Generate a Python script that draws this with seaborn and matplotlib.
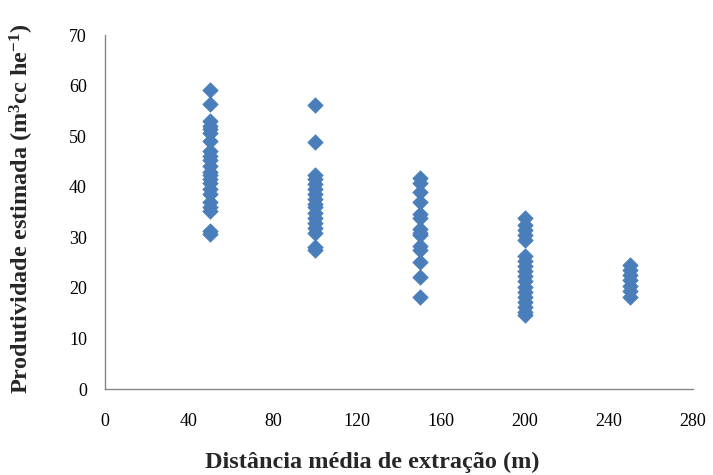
import matplotlib
matplotlib.use("Agg")
import matplotlib.pyplot as plt
import seaborn as sns
import pandas as pd

# Productivity estimated at each mean extraction distance
dist_50 = [59.2, 56.4, 52.9, 52.1, 51.4, 50.6, 49.1, 47.1, 46.1, 45.3, 44.0,
           43.0, 42.3, 41.5, 40.8, 39.5, 38.5, 37.0, 35.9, 35.2, 31.2, 30.6]
dist_100 = [56.2, 48.8, 42.3, 41.5, 40.5, 39.5, 38.5, 37.5, 36.6, 35.9, 34.9,
            33.9, 32.9, 31.9, 30.9, 28.1, 27.5]
dist_150 = [41.7, 40.8, 39.0, 36.9, 34.6, 33.9, 31.6, 30.9, 30.4, 28.3, 27.5,
            25.1, 22.1, 18.2]
dist_200 = [33.8, 32.4, 31.4, 30.4, 29.4, 26.3, 25.3, 24.3, 23.3, 22.3, 21.3,
            20.2, 19.2, 18.2, 17.2, 16.2, 15.2, 14.7]
dist_250 = [24.5, 23.5, 22.5, 21.5, 20.4, 19.4, 18.2]

distances = [50, 100, 150, 200, 250]
groups = [dist_50, dist_100, dist_150, dist_200, dist_250]

x_ticks = [0, 40, 80, 120, 160, 200, 240, 280]
y_ticks = [0, 10, 20, 30, 40, 50, 60, 70]

df = pd.DataFrame({
    "dist": [d for d, g in zip(distances, groups) for _ in g],
    "prod": [v for g in groups for v in g],
})

sns.set_theme(style="white")
plt.rcParams["font.family"] = ["Liberation Serif", "DejaVu Serif"]
plt.rcParams["mathtext.fontset"] = "custom"
plt.rcParams["mathtext.rm"] = "Liberation Serif:bold"
plt.rcParams["mathtext.bf"] = "Liberation Serif:bold"
plt.rcParams["mathtext.default"] = "bf"

fig = plt.figure(figsize=(7.13, 4.75), dpi=100)
ax = fig.add_axes([0.1473, 0.181, 0.8247, 0.7453])

sns.scatterplot(data=df, x="dist", y="prod", marker="D", s=62,
                color="#4A7EBB", edgecolor="#4A7EBB", linewidth=0.5, ax=ax,
                zorder=3)

ax.set_xlim(0, 280)
ax.set_ylim(0, 70)
ax.set_xticks(x_ticks)
ax.set_yticks(y_ticks)
ax.tick_params(axis="both", direction="out", length=5, width=1,
               color="#868686", labelsize=13, labelcolor="black")
ax.tick_params(axis="x", pad=12)
ax.tick_params(axis="y", pad=8)
for side in ["top", "right"]:
    ax.spines[side].set_visible(False)
for side in ["left", "bottom"]:
    ax.spines[side].set_color("#868686")
    ax.spines[side].set_linewidth(1)

ax.set_xlabel("Distância média de extração (m)", fontsize=17.5,
              fontweight="bold", va="center")
ax.set_ylabel(r"Produtividade estimada (m$^{3}$cc he$^{-1}$)", fontsize=17.5,
              fontweight="bold", va="center")
ax.xaxis.set_label_coords(0.454, -0.206)
ax.yaxis.set_label_coords(-0.141, 0.508)

fig.savefig("out.png", dpi=100)
